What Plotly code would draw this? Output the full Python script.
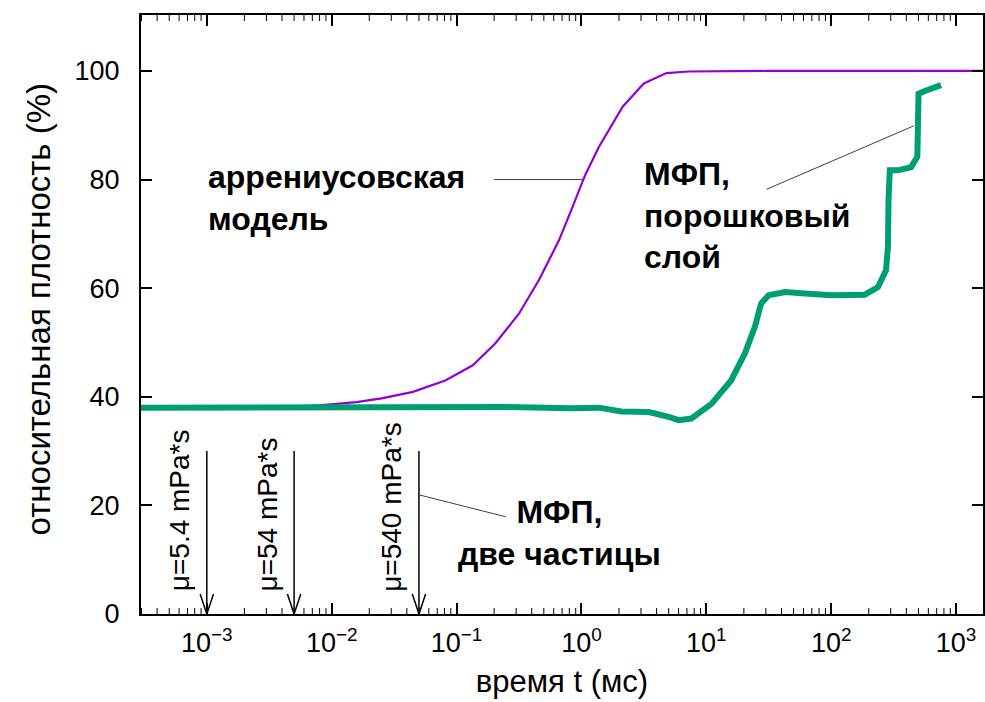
import math
import plotly.graph_objects as go

# ---------------- data ----------------
# Arrhenius model (purple)
arr_t = [0.00029, 0.00158, 0.00398, 0.00794, 0.0158, 0.0251, 0.0447, 0.0813, 0.135, 0.204,
         0.316, 0.457, 0.661, 0.851, 1.07, 1.38, 2.14, 3.16, 4.79, 7.24, 31.6, 1660]
arr_rho = [38.0, 38.0, 38.1, 38.4, 39.0, 39.7, 40.9, 43.0, 45.8, 49.8,
           55.3, 61.5, 68.8, 75.0, 80.8, 86.0, 93.4, 97.7, 99.6, 99.9, 100.0, 100.0]

# MFP, powder layer (green)
mfp_t = [0.00029, 0.00316, 0.0126, 0.05, 0.25, 0.83, 1.38, 2.09, 3.47, 5.0, 6.0, 7.6,
         11.0, 15.8, 20.4, 24.5, 27.5, 31.6, 42.7, 61.7, 100, 186, 237, 275, 285, 288,
         295, 343, 437, 490, 495, 501, 562, 759]
mfp_rho = [38.0, 38.0, 38.1, 38.25, 38.1, 37.9, 38.0, 37.3, 37.2, 36.3, 35.7, 36.0,
           38.7, 43.0, 48.0, 52.9, 57.2, 58.7, 59.3, 59.0, 58.7, 58.8, 60.2, 63.3, 67.6, 76.2,
           81.7, 81.7, 82.3, 84.2, 86.6, 95.8, 96.3, 97.4]

# viscosity arrows (MFP, two particles)
arrow_t = [0.001, 0.005, 0.05]
arrow_top = 30
arrow_labels = ["μ=5.4 mPa*s", "μ=54 mPa*s", "μ=540 mPa*s"]

# callout leader lines
lead_arr_t = [0.2, 1.045]
lead_arr_rho = [80.0, 80.0]
lead_pow_t = [30.4, 460]
lead_pow_rho = [78.2, 89.9]
lead_two_t = [0.0509, 0.248]
lead_two_rho = [21.9, 17.9]

x_tickvals = [1e-3, 1e-2, 1e-1, 1e0, 1e1, 1e2, 1e3]
x_ticktext = ["10<sup>−3</sup>", "10<sup>−2</sup>", "10<sup>−1</sup>", "10<sup>0</sup>",
              "10<sup>1</sup>", "10<sup>2</sup>", "10<sup>3</sup>"]
y_tickvals = [0, 20, 40, 60, 80, 100]

FONT = "Liberation Sans, Arial, Helvetica, sans-serif"
PURPLE = "#9400d3"
GREEN = "#009e73"
LEAD = "#404040"
XRANGE = [-3.527, 3.216]
PLOT_H = 702 - 15 - 88

# minor log ticks (2..9 per decade) inside the visible range
minor_x = []
for e in range(-4, 4):
    for k in range(2, 10):
        v = k * 10.0 ** e
        if XRANGE[0] < math.log10(v) < XRANGE[1]:
            minor_x.append(v)

fig = go.Figure()

fig.add_trace(go.Scatter(x=arr_t, y=arr_rho, mode="lines",
                         line=dict(color=PURPLE, width=2.2), showlegend=False, hoverinfo="skip"))
fig.add_trace(go.Scatter(x=mfp_t, y=mfp_rho, mode="lines",
                         line=dict(color=GREEN, width=6), showlegend=False, hoverinfo="skip"))

# leader lines
for lx, ly in [(lead_arr_t, lead_arr_rho), (lead_pow_t, lead_pow_rho), (lead_two_t, lead_two_rho)]:
    fig.add_trace(go.Scatter(x=lx, y=ly, mode="lines", line=dict(color=LEAD, width=1),
                             showlegend=False, hoverinfo="skip"))

# arrows: shaft + open chevron head
head_dec = 0.0535   # half-width of head in decades
head_h = 3.7        # head height in data units
for t, lab in zip(arrow_t, arrow_labels):
    xs = [t, t, None, t * 10 ** (-head_dec), t, t * 10 ** head_dec]
    ys = [arrow_top, 0, None, head_h, 0, head_h]
    fig.add_trace(go.Scatter(x=xs, y=ys, mode="lines", line=dict(color="black", width=1.5),
                             showlegend=False, hoverinfo="skip", cliponaxis=False))
    fig.add_annotation(x=math.log10(t), y=3.8, xref="x", yref="y", text=lab, showarrow=False,
                       textangle=-90, xanchor="center", yanchor="bottom", xshift=-27,
                       font=dict(family=FONT, size=28, color="black"))

bold = dict(family=FONT, size=32, color="black", weight="bold")
fig.add_annotation(x=math.log10(0.00098), y=76.6, xref="x", yref="y",
                   text="аррениусовская<br>модель",
                   showarrow=False, xanchor="left", yanchor="middle", align="left", font=bold)
fig.add_annotation(x=math.log10(3.05), y=73.4, xref="x", yref="y",
                   text="МФП,<br>порошковый<br>слой",
                   showarrow=False, xanchor="left", yanchor="middle", align="left", font=bold)
fig.add_annotation(x=math.log10(0.673), y=14.9, xref="x", yref="y",
                   text="МФП,<br>две частицы",
                   showarrow=False, xanchor="center", yanchor="middle", align="center", font=bold)

# y-axis title as a rotated annotation (position matched to reference)
fig.add_annotation(x=-0.122, y=0.509, xref="paper", yref="paper",
                   text="относительная плотность (%)", showarrow=False, textangle=-90,
                   xanchor="center", yanchor="middle",
                   font=dict(family=FONT, size=33, color="black"))

# minor x ticks drawn at bottom and top (inside)
mt = 6 / PLOT_H
for v in minor_x:
    for y0, y1 in [(0, mt), (1 - mt, 1)]:
        fig.add_shape(type="line", xref="x", yref="paper", x0=v, x1=v, y0=y0, y1=y1,
                      line=dict(color="black", width=1), layer="above")

axis_common = dict(showline=True, linecolor="black", linewidth=2,
                   ticks="inside", ticklen=11, tickwidth=1.5, tickcolor="black",
                   showgrid=False, zeroline=False, mirror="ticks",
                   tickfont=dict(family=FONT, size=27, color="black"))

fig.update_layout(
    xaxis=dict(type="log", range=XRANGE, tickmode="array",
               tickvals=x_tickvals, ticktext=x_ticktext, ticklabelstandoff=4,
               title=dict(text="время t (мс)", font=dict(family=FONT, size=31, color="black"),
                          standoff=13),
               **axis_common),
    yaxis=dict(range=[0, 110.3], tickmode="array", tickvals=y_tickvals, ticklabelstandoff=14,
               **axis_common),
)

fig.update_layout(width=985, height=702, margin=dict(l=141, r=0, t=15, b=88),
                  plot_bgcolor="white", paper_bgcolor="white", showlegend=False,
                  font=dict(family=FONT))

fig.write_html("out.html")
